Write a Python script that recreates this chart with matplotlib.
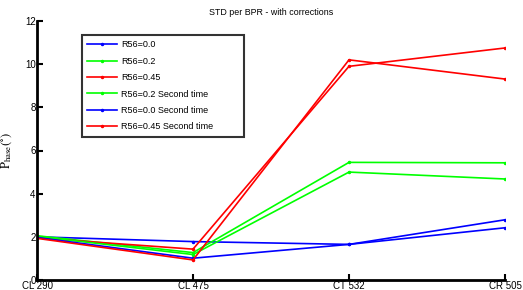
import matplotlib
matplotlib.use("Agg")
import matplotlib.pyplot as plt

categories = ["CL 290", "CL 475", "CT 532", "CR 505"]
labels = ["R56=0.0", "R56=0.2", "R56=0.45", "R56=0.2 Second time",
          "R56=0.0 Second time", "R56=0.45 Second time"]
colors = ["#0000ff", "#00ff00", "#ff0000", "#00ff00", "#0000ff", "#ff0000"]
r56_00 = [2.00, 1.78, 1.65, 2.42]
r56_02 = [2.05, 1.27, 5.45, 5.43]
r56_045 = [1.95, 1.43, 9.90, 10.75]
r56_02_b = [2.02, 1.18, 5.00, 4.68]
r56_00_b = [1.97, 1.01, 1.65, 2.79]
r56_045_b = [1.93, 0.93, 10.20, 9.31]
series = [r56_00, r56_02, r56_045, r56_02_b, r56_00_b, r56_045_b]

plt.rcParams['font.family'] = ['Liberation Sans', 'DejaVu Sans']
plt.rcParams['mathtext.fontset'] = 'stix'

W, H = 523, 290
fig = plt.figure(figsize=(W / 100, H / 100), dpi=100)
ax = fig.add_axes([37 / W, 10 / H, 468 / W, 259 / H])
x = list(range(len(categories)))
for s, c, l in zip(series, colors, labels):
    ax.plot(x, s, color=c, lw=1.2, marker='.', markersize=3, label=l)

ax.set_xlim(0, 3)
ax.set_ylim(0, 12)
ax.set_xticks(x)
ax.set_xticklabels(categories)
ax.set_yticks([0, 2, 4, 6, 8, 10, 12])
ax.tick_params(direction='in', length=4, width=1.5, labelsize=7)
ax.tick_params(axis='x', pad=0.8)
ax.tick_params(axis='y', pad=1)
for sp in ['top', 'right']:
    ax.spines[sp].set_visible(False)
for sp in ['left', 'bottom']:
    ax.spines[sp].set_linewidth(2)
ax.set_title("STD per BPR - with corrections", fontsize=6.4, pad=4.5)
ax.set_ylabel(r'$\mathrm{P_{hase}(^{\circ})}$', fontsize=9, labelpad=8)

# legend box: x 82..244, y 35..137 (pixels)
ax_x0, ax_w = 37, 468
ax_top, ax_h = 21, 259
bx0 = (82 - ax_x0) / ax_w
bw = (244 - 82) / ax_w
btop = 1 - (35 - ax_top) / ax_h
bh = (137 - 35) / ax_h
leg = ax.legend(loc='upper left', bbox_to_anchor=(bx0, btop - bh, bw, bh), mode='expand',
                fontsize=6.5, frameon=True, fancybox=False, edgecolor='black',
                handlelength=3.3, labelspacing=0.82, borderpad=0.6, handletextpad=0.4,
                borderaxespad=0)
leg.get_frame().set_linewidth(1.5)

fig.savefig("out.png", dpi=100)
